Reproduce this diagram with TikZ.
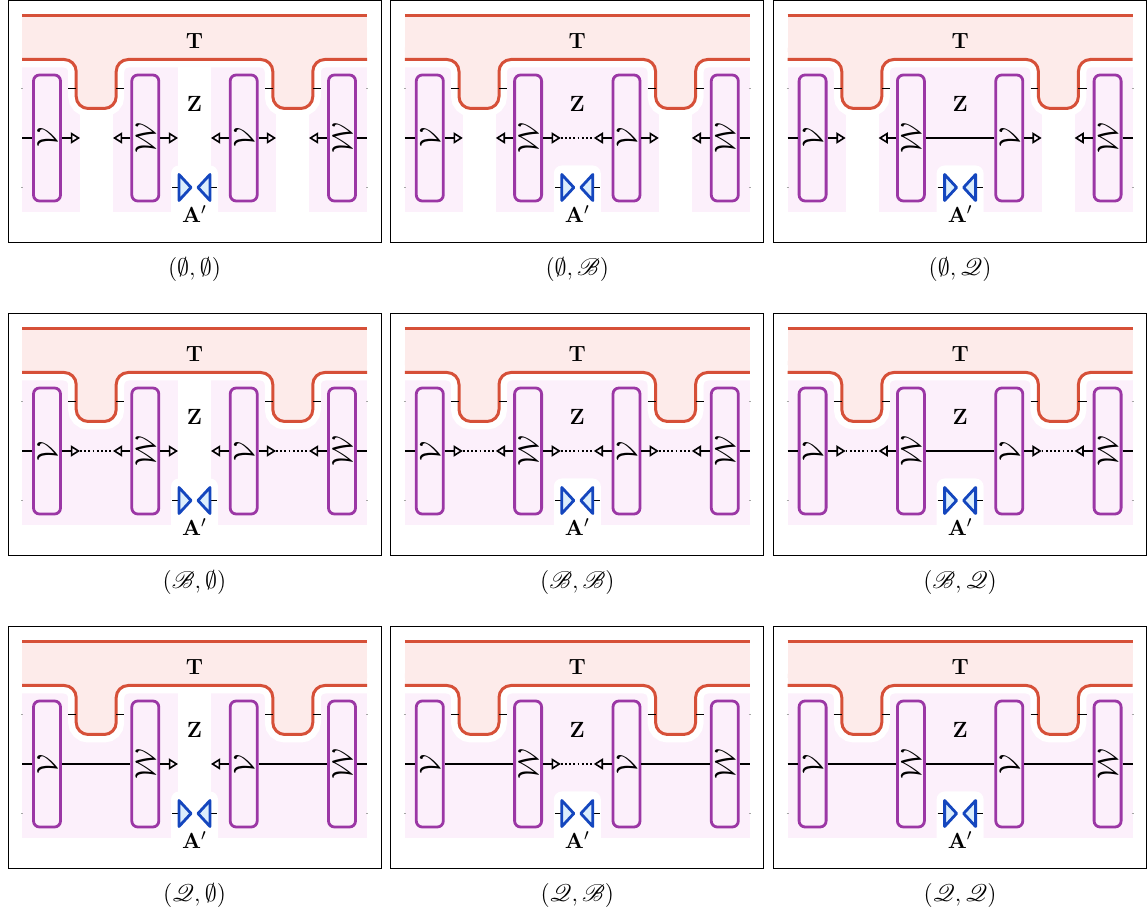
\documentclass[tikz,border=0pt]{standalone}
\usepackage{amsmath,amssymb,mathrsfs}
\usepackage{tikz}
\usetikzlibrary{arrows.meta}
\definecolor{tracecolor}{RGB}{214,80,56}
\definecolor{tracefill}{RGB}{253,235,234}
\definecolor{boxcolor}{RGB}{155,55,165}
\definecolor{regionfill}{RGB}{252,240,251}
\definecolor{lenscolor}{RGB}{20,70,190}
\definecolor{lensfill}{RGB}{220,238,252}

\newcommand{\setsym}[1]{\ifcase#1\emptyset\or\mathscr{B}\or\mathscr{Q}\fi}

\newcommand{\bandedge}[1]{\draw[#1] (14,59) -- (68.2,59) -- (68.2,108) -- (108.2,108) -- (108.2,59)
  -- (264.8,59) -- (264.8,108) -- (304.8,108) -- (304.8,59) -- (359,59);}

\newcommand{\gapwire}[5]{%
  \ifcase#5
    \draw[wire,tip] (#1.east) -- (#3);
    \draw[wire,tip] (#2.west) -- (#4);
  \or
    \draw[wire,tip] (#1.east) -- (#3);
    \draw[wire,tip] (#2.west) -- (#4);
    \draw[wire,dotline] (#3) -- (#4);
  \or
    \draw[wire] (#1.east) -- (#2.west);
  \fi}

\newcommand{\panel}[4]{%
\begin{scope}[shift={(#1,#2)}]
  \fill[regionfill] (14,67) rectangle (359,212);
  \ifnum#3=0
    \fill[white] (72,67) rectangle (105,212);
    \fill[white] (268,67) rectangle (301,212);
  \fi
  \ifnum#4=0
    \fill[white] (170,67) rectangle (203,212);
  \fi
  \bandedge{halo}
  \fill[white, rounded corners=4pt] (163,165) rectangle (210,224);
  \fill[tracefill] (14,14.7) rectangle (359,59);
  \fill[tracefill, rounded corners=6pt] (14,40) -- (14,59) -- (68.2,59) -- (68.2,108) -- (108.2,108) -- (108.2,59)
    -- (264.8,59) -- (264.8,108) -- (304.8,108) -- (304.8,59) -- (359,59) -- (359,40) -- cycle;
  \draw[traceline] (14,14.7) -- (359,14.7);
  \bandedge{traceline}

  \node[vbox] (b1) at (39,137.5) {\rotatebox{90}{$\mathcal{V}$}};
  \node[vbox] (b2) at (137.3,137.5) {\rotatebox{90}{$\mathcal{W}$}};
  \node[vbox] (b3) at (235.7,137.5) {\rotatebox{90}{$\mathcal{V}$}};
  \node[vbox] (b4) at (334,137.5) {\rotatebox{90}{$\mathcal{W}$}};

  \coordinate (lend) at (14,137.5);
  \coordinate (rend) at (359,137.5);
  \coordinate (g1a) at (72,137.5);
  \coordinate (g1b) at (105,137.5);
  \coordinate (g2a) at (170,137.5);
  \coordinate (g2b) at (203,137.5);
  \coordinate (g3a) at (268,137.5);
  \coordinate (g3b) at (301,137.5);

  \draw[wire] (lend) -- (b1.west);
  \gapwire{b1}{b2}{g1a}{g1b}{#3}
  \gapwire{b2}{b3}{g2a}{g2b}{#4}
  \gapwire{b3}{b4}{g3a}{g3b}{#3}
  \draw[wire] (b4.east) -- (rend);

  \draw[wire] (60,88) -- (68.2,88);
  \draw[wire] (108.2,88) -- (116,88);
  \draw[wire] (257,88) -- (264.8,88);
  \draw[wire] (304.8,88) -- (313,88);
  \draw[faint] (13,88) -- (15,88);
  \draw[faint] (13,187) -- (15,187);
  \draw[faint] (358,88) -- (360,88);
  \draw[faint] (358,187) -- (360,187);

  \draw[wire] (164,187) -- (171,187);
  \draw[wire] (202,187) -- (209,187);
  \draw[lens] (171,174) -- (183,187) -- (171,200) -- cycle;
  \draw[lens] (202,174) -- (190,187) -- (202,200) -- cycle;

  \node[lbl] (tlab) at (186.5,41) {T};
  \node[lbl] (zlab) at (186.5,103) {Z};
  \node[lbl] (alab) at (186.5,214) {$\mathbf{A}'$};

  \draw[frame] (0,0) rectangle (373,242.5);
  \node[caption] (cap) at (186.5,269) {$(\setsym{#3},\setsym{#4})$};
\end{scope}}

\begin{document}
\begin{tikzpicture}[
    x=0.5pt, y=-0.5pt,
    wire/.style={line width=0.9pt, black},
    tip/.style={-{Triangle[open, length=4.6pt, width=5.6pt, line width=0.8pt]}},
    dotline/.style={dash pattern=on 0.9pt off 1.2pt},
    faint/.style={black!35, line width=0.4pt},
    halo/.style={white, line width=8pt, rounded corners=6pt},
    traceline/.style={tracecolor, line width=1.5pt, rounded corners=6pt},
    vbox/.style={rectangle, draw=boxcolor, fill=regionfill, line width=1.4pt, rounded corners=3pt,
      minimum width=13.5pt, minimum height=63pt, inner sep=0pt, font=\fontsize{13.5}{16}\selectfont},
    lens/.style={draw=lenscolor, fill=lensfill, line width=1.4pt, line join=round},
    lbl/.style={inner sep=0pt, font=\fontsize{11}{13}\selectfont\bfseries},
    frame/.style={black, line width=0.5pt},
    caption/.style={inner sep=0pt, font=\fontsize{12}{14}\selectfont}
]
  \useasboundingbox (0,0) rectangle (1147,913);
  \foreach \r in {0,1,2} {
    \foreach \c in {0,1,2} {
      \panel{{8+382.8*\c}}{{0.5+313*\r}}{\r}{\c}
    }
  }
\end{tikzpicture}
\end{document}
